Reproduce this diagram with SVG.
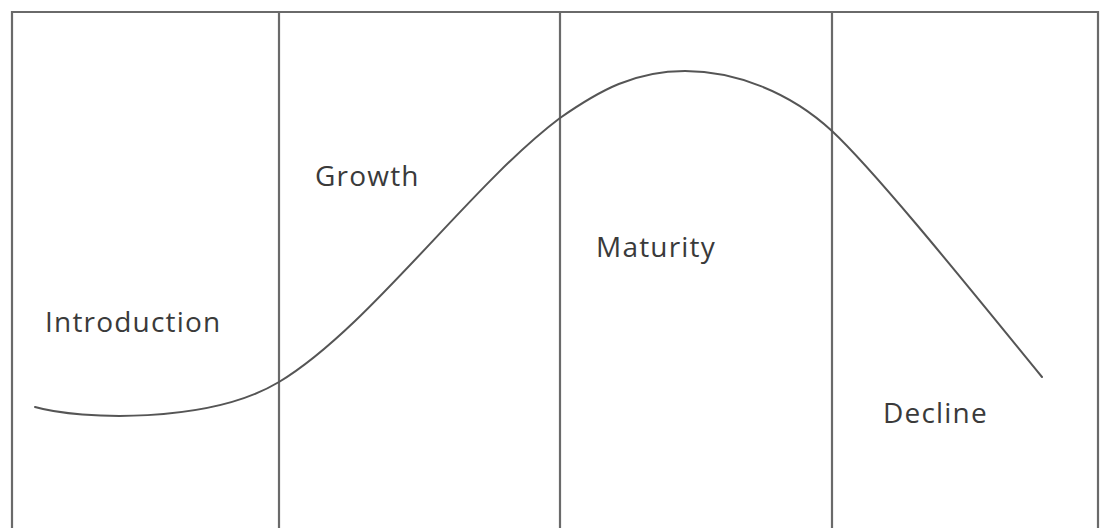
<svg xmlns="http://www.w3.org/2000/svg" width="1100" height="528" viewBox="0 0 1100 528">
  <style>
    .frame { fill: none; stroke: #6a6a6a; stroke-width: 2.2; }
    .divider { stroke: #6a6a6a; stroke-width: 2.2; }
    .curve { fill: none; stroke: #555; stroke-width: 2; stroke-linecap: round; }
    .label { font-family: "Open Sans", "Liberation Sans", sans-serif; font-size: 28px; letter-spacing: 1.2px; fill: #3a3a3a; }
  </style>
  <rect width="1100" height="528" fill="#ffffff"/>

  <!-- outer frame: top, left and right edges, open at the bottom -->
  <path class="frame" d="M12,540 V12 H1098 V540"/>

  <!-- stage dividers -->
  <g id="dividers">
    <line class="divider" x1="279" y1="12" x2="279" y2="528"/>
    <line class="divider" x1="560" y1="12" x2="560" y2="528"/>
    <line class="divider" x1="832" y1="12" x2="832" y2="528"/>
  </g>

  <!-- life-cycle curve -->
  <g id="connectors">
    <path class="curve" d="M35,407 C80,420 209,424 279,382 C369,328 470,185.5 560,118 C600,90 635,71 685,71 C735,71 790,92 832,131 C877,173 975,295 1042,377"/>
  </g>

  <!-- stage labels -->
  <g id="introduction"><text class="label" x="45" y="332">Introduction</text></g>
  <g id="growth"><text class="label" x="315" y="186">Growth</text></g>
  <g id="maturity"><text class="label" x="596" y="257">Maturity</text></g>
  <g id="decline"><text class="label" x="883" y="423">Decline</text></g>
</svg>
